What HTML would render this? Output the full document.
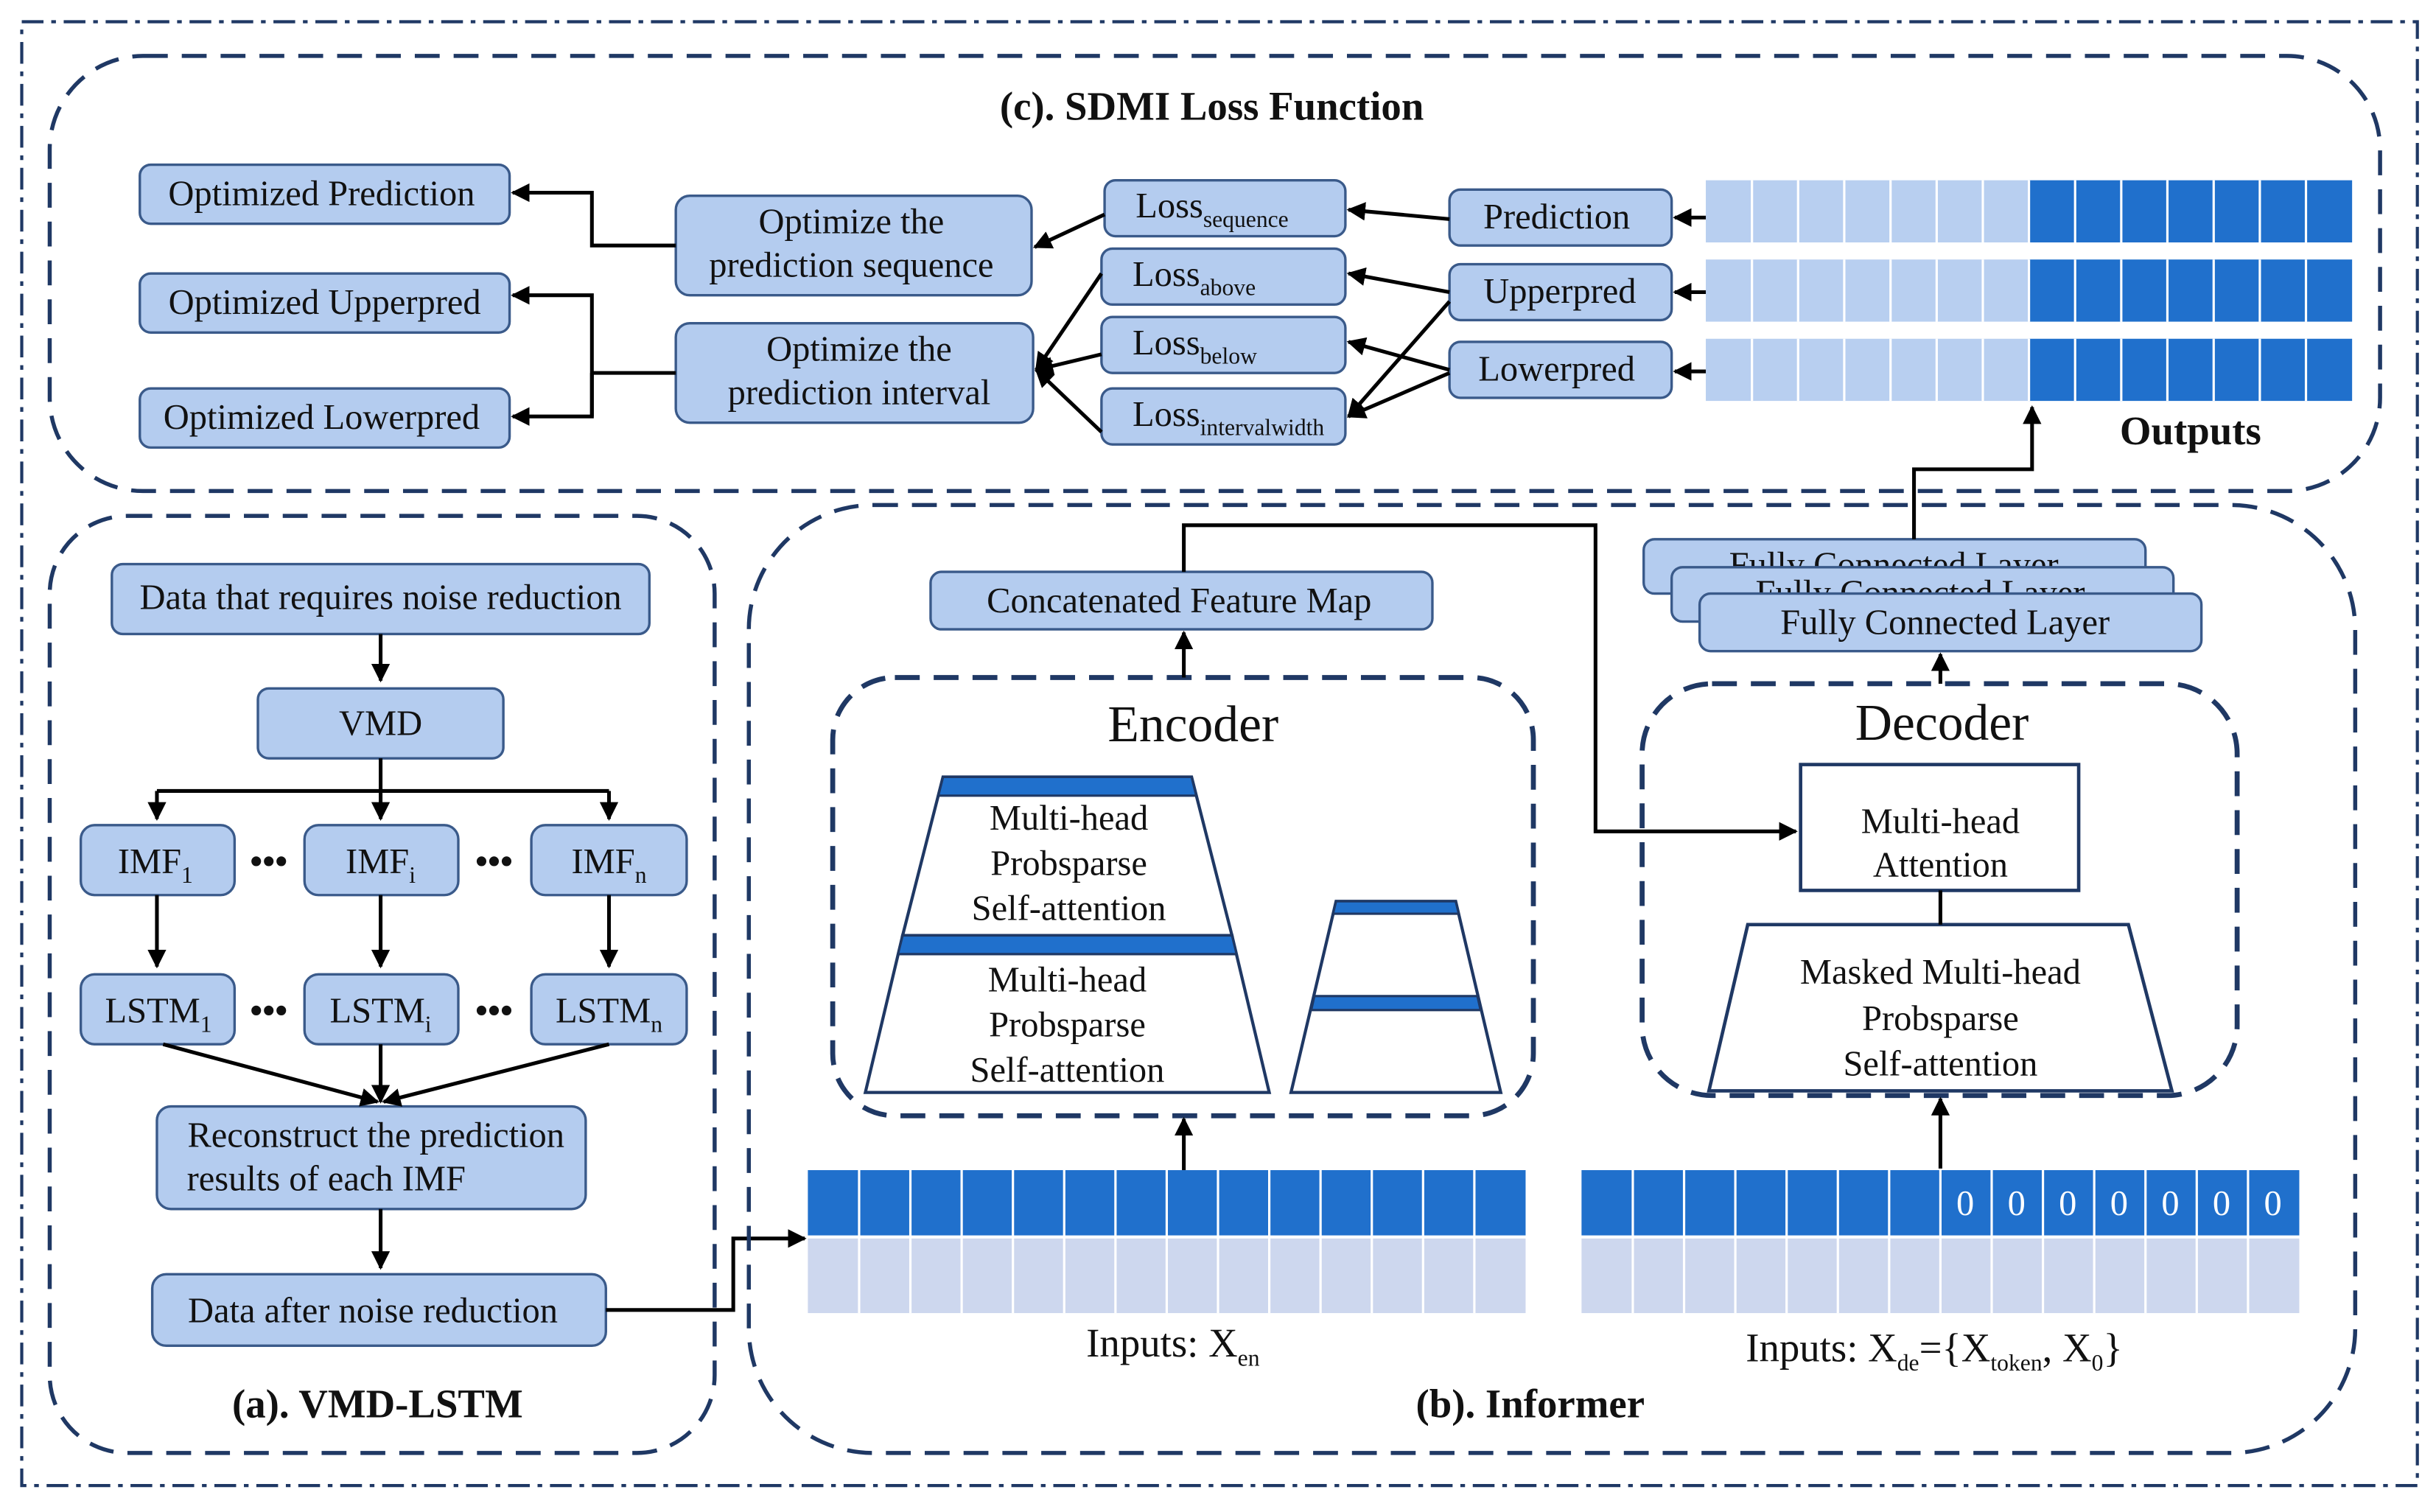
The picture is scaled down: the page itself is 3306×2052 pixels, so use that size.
<!DOCTYPE html>
<html><head><meta charset="utf-8"><style>
html,body{margin:0;padding:0;background:#fff;}
svg{display:block;font-family:"Liberation Serif","Times New Roman",serif;}
text{font-family:"Liberation Serif","Times New Roman",serif;fill:#111;}
.n{fill:#b4ccef;stroke:#3a5a8a;stroke-width:1.6;}
.t{font-size:23px;text-anchor:middle;}
.b{font-weight:bold;font-size:26px;text-anchor:middle;}
.d{fill:none;stroke:#1f3864;stroke-width:2.6;stroke-dasharray:16 9;}
.l{fill:none;stroke:#000;stroke-width:2.4;}
.s{font-size:15px;}
.i{font-size:26px;text-anchor:middle;}
</style></head><body>
<svg width="3306" height="2052" viewBox="0 0 1568 973" preserveAspectRatio="none" xmlns="http://www.w3.org/2000/svg" font-family="Liberation Serif, serif">
<defs><marker id="a" viewBox="0 0 10 10" refX="9" refY="5" markerWidth="5" markerHeight="5" orient="auto"><path d="M0,0L10,5L0,10z" fill="#000"/></marker></defs>
<rect x="0" y="0" width="1568" height="973" fill="#fff"/>
<rect x="14" y="14" width="1542" height="942" fill="none" stroke="#1f3864" stroke-width="2" stroke-dasharray="14 5 3 5"/>
<!-- (c) -->
<rect x="32" y="36" width="1500" height="280" rx="60" class="d"/>
<text x="780" y="77" class="b">(c). SDMI Loss Function</text>
<rect x="90" y="106" width="238" height="38" rx="7" class="n"/><text x="207" y="132" class="t">Optimized Prediction</text>
<rect x="90" y="176" width="238" height="38" rx="7" class="n"/><text x="209" y="202" class="t">Optimized Upperpred</text>
<rect x="90" y="250" width="238" height="38" rx="7" class="n"/><text x="207" y="276" class="t">Optimized Lowerpred</text>
<rect x="435" y="126" width="229" height="64" rx="9" class="n"/><text x="548" y="150" class="t">Optimize the</text><text x="548" y="178" class="t">prediction sequence</text>
<rect x="435" y="208" width="230" height="64" rx="9" class="n"/><text x="553" y="232" class="t">Optimize the</text><text x="553" y="260" class="t">prediction interval</text>
<rect x="711" y="116" width="155" height="36" rx="7" class="n"/><text x="731" y="140" class="t" style="text-anchor:start">Loss<tspan class="s" dy="6">sequence</tspan></text>
<rect x="709" y="160" width="157" height="36" rx="7" class="n"/><text x="729" y="184" class="t" style="text-anchor:start">Loss<tspan class="s" dy="6">above</tspan></text>
<rect x="709" y="204" width="157" height="36" rx="7" class="n"/><text x="729" y="228" class="t" style="text-anchor:start">Loss<tspan class="s" dy="6">below</tspan></text>
<rect x="709" y="250" width="157" height="36" rx="7" class="n"/><text x="729" y="274" class="t" style="text-anchor:start">Loss<tspan class="s" dy="6">intervalwidth</tspan></text>
<rect x="933" y="122" width="143" height="36" rx="7" class="n"/><text x="1002" y="147" class="t">Prediction</text>
<rect x="933" y="170" width="143" height="36" rx="7" class="n"/><text x="1004" y="195" class="t">Upperpred</text>
<rect x="933" y="220" width="143" height="36" rx="7" class="n"/><text x="1002" y="245" class="t">Lowerpred</text>
<g id="orow">
<rect x="1098" y="116" width="208" height="40" fill="#b8cff0"/>
<rect x="1306" y="116" width="208" height="40" fill="#2070cc"/>
<g stroke="#fff" stroke-width="1.5"><path d="M1127.7 116v40M1157.4 116v40M1187.1 116v40M1216.9 116v40M1246.6 116v40M1276.3 116v40M1306 116v40M1335.7 116v40M1365.4 116v40M1395.1 116v40M1424.9 116v40M1454.6 116v40M1484.3 116v40"/></g>
</g>
<use href="#orow" y="51"/><use href="#orow" y="102"/>
<text x="1410" y="286" class="b">Outputs</text>
<path class="l" marker-end="url(#a)" d="M1098 140H1078"/>
<path class="l" marker-end="url(#a)" d="M1098 188H1078"/>
<path class="l" marker-end="url(#a)" d="M1098 239H1078"/>
<path class="l" marker-end="url(#a)" d="M933 141L868 135"/>
<path class="l" marker-end="url(#a)" d="M933 188L868 176"/>
<path class="l" marker-end="url(#a)" d="M933 238L868 220"/>
<path class="l" marker-end="url(#a)" d="M933 194L868 268"/>
<path class="l" marker-end="url(#a)" d="M933 240L868 268"/>
<path class="l" marker-end="url(#a)" d="M711 138L666 159"/>
<path class="l" marker-end="url(#a)" d="M709 176L667 238"/>
<path class="l" marker-end="url(#a)" d="M709 228L667 238"/>
<path class="l" marker-end="url(#a)" d="M709 278L667 238"/>
<path class="l" marker-end="url(#a)" d="M435 158H381V124H330"/>
<path class="l" d="M435 240H381"/>
<path class="l" marker-end="url(#a)" d="M381 268V190H330"/>
<path class="l" marker-end="url(#a)" d="M381 240V268H330"/>
<!-- (a) -->
<rect x="32" y="332" width="428" height="603" rx="50" class="d"/>
<text x="243" y="912" class="b">(a). VMD-LSTM</text>
<rect x="72" y="363" width="346" height="45" rx="7" class="n"/><text x="245" y="392" class="t">Data that requires noise reduction</text>
<rect x="166" y="443" width="158" height="45" rx="7" class="n"/><text x="245" y="473" class="t">VMD</text>
<rect x="52" y="531" width="99" height="45" rx="9" class="n"/><text x="100" y="562" class="t">IMF<tspan class="s" dy="6">1</tspan></text>
<rect x="196" y="531" width="99" height="45" rx="9" class="n"/><text x="245" y="562" class="t">IMF<tspan class="s" dy="6">i</tspan></text>
<rect x="342" y="531" width="100" height="45" rx="9" class="n"/><text x="392" y="562" class="t">IMF<tspan class="s" dy="6">n</tspan></text>
<rect x="52" y="627" width="99" height="45" rx="9" class="n"/><text x="102" y="658" class="t">LSTM<tspan class="s" dy="6">1</tspan></text>
<rect x="196" y="627" width="99" height="45" rx="9" class="n"/><text x="245" y="658" class="t">LSTM<tspan class="s" dy="6">i</tspan></text>
<rect x="342" y="627" width="100" height="45" rx="9" class="n"/><text x="392" y="658" class="t">LSTM<tspan class="s" dy="6">n</tspan></text>
<text x="173" y="562" class="t" font-weight="bold">•••</text><text x="318" y="562" class="t" font-weight="bold">•••</text>
<text x="173" y="658" class="t" font-weight="bold">•••</text><text x="318" y="658" class="t" font-weight="bold">•••</text>
<rect x="101" y="712" width="276" height="66" rx="9" class="n"/><text x="242" y="738" class="t">Reconstruct the prediction</text><text x="210" y="766" class="t">results of each IMF</text>
<rect x="98" y="820" width="292" height="46" rx="9" class="n"/><text x="240" y="851" class="t">Data after noise reduction</text>
<path class="l" marker-end="url(#a)" d="M245 408V438"/>
<path class="l" marker-end="url(#a)" d="M245 488V527"/>
<path class="l" marker-end="url(#a)" d="M101 509V527"/><path class="l" marker-end="url(#a)" d="M392 509V527"/><path class="l" d="M101 509H392"/>
<path class="l" marker-end="url(#a)" d="M101 576V622"/><path class="l" marker-end="url(#a)" d="M245 576V622"/><path class="l" marker-end="url(#a)" d="M392 576V622"/>
<path class="l" marker-end="url(#a)" d="M105 672L243 709"/><path class="l" marker-end="url(#a)" d="M245 672V709"/><path class="l" marker-end="url(#a)" d="M392 672L247 709"/>
<path class="l" marker-end="url(#a)" d="M245 778V816"/>
<path class="l" marker-end="url(#a)" d="M390 843H472V797H518"/>
<!-- (b) -->
<rect x="482" y="325" width="1034" height="610" rx="80" class="d"/>
<text x="985" y="912" class="b">(b). Informer</text>
<rect x="599" y="368" width="323" height="37" rx="7" class="n"/><text x="759" y="394" class="t">Concatenated Feature Map</text>
<rect x="536" y="436" width="451" height="282" rx="40" class="d" style="stroke-width:3.2"/>
<text x="768" y="477" style="font-size:33px;text-anchor:middle">Encoder</text>
<path d="M607 500H767L793 602H581Z" fill="#fff" stroke="#1f3864" stroke-width="2"/>
<path d="M607 500H767L770 512H604Z" fill="#2070cc" stroke="#1f3864" stroke-width="1.5"/>
<path d="M581 602H793L817 703H557Z" fill="#fff" stroke="#1f3864" stroke-width="2"/>
<path d="M581 602H793L796 614H578Z" fill="#2070cc" stroke="#1f3864" stroke-width="1.5"/>
<text x="688" y="534" class="t">Multi-head</text><text x="688" y="563" class="t">Probsparse</text><text x="688" y="592" class="t">Self-attention</text>
<text x="687" y="638" class="t">Multi-head</text><text x="687" y="667" class="t">Probsparse</text><text x="687" y="696" class="t">Self-attention</text>
<path d="M860 580H937L966 703H831Z" fill="#fff" stroke="#1f3864" stroke-width="2"/>
<path d="M860 580H937L939 588H858Z" fill="#2070cc" stroke="#1f3864" stroke-width="1.5"/>
<path d="M846 641H951L953 650H844Z" fill="#2070cc" stroke="#1f3864" stroke-width="1.5"/>
<rect x="1057" y="440" width="383" height="265" rx="45" class="d" style="stroke-width:3.2"/>
<text x="1250" y="476" style="font-size:33px;text-anchor:middle">Decoder</text>
<rect x="1159" y="492" width="179" height="81" fill="#fff" stroke="#1f3864" stroke-width="2.2"/>
<text x="1249" y="536" class="t">Multi-head</text><text x="1249" y="564" class="t">Attention</text>
<path d="M1125 595H1370L1398 702H1100Z" fill="#fff" stroke="#1f3864" stroke-width="2.2"/>
<text x="1249" y="633" class="t">Masked Multi-head</text><text x="1249" y="663" class="t">Probsparse</text><text x="1249" y="692" class="t">Self-attention</text>
<path class="l" d="M1249 573V595"/>
<rect x="1058" y="347" width="323" height="35" rx="7" class="n"/><text x="1219" y="371" class="t">Fully Connected Layer</text>
<rect x="1076" y="365" width="323" height="35" rx="7" class="n"/><text x="1236" y="389" class="t">Fully Connected Layer</text>
<rect x="1094" y="382" width="323" height="37" rx="7" class="n"/><text x="1252" y="408" class="t">Fully Connected Layer</text>
<g id="irow">
<rect x="520" y="753" width="462" height="42" fill="#2070cc"/>
<rect x="520" y="797" width="462" height="48" fill="#cdd7ee"/>
<g stroke="#fff" stroke-width="1.5"><path d="M553 753v92M586 753v92M619 753v92M652 753v92M685 753v92M718 753v92M751 753v92M784 753v92M817 753v92M850 753v92M883 753v92M916 753v92M949 753v92"/></g>
</g>
<use href="#irow" x="498"/>
<g style="font-size:23px;text-anchor:middle"><text x="1265" y="782" style="fill:#fff">0</text><text x="1298" y="782" style="fill:#fff">0</text><text x="1331" y="782" style="fill:#fff">0</text><text x="1364" y="782" style="fill:#fff">0</text><text x="1397" y="782" style="fill:#fff">0</text><text x="1430" y="782" style="fill:#fff">0</text><text x="1463" y="782" style="fill:#fff">0</text></g>
<text x="755" y="873" class="i">Inputs: X<tspan class="s" dy="6">en</tspan></text>
<text x="1245" y="876" class="i">Inputs: X<tspan class="s" dy="6">de</tspan><tspan dy="-6">={X</tspan><tspan class="s" dy="6">token</tspan><tspan dy="-6">, X</tspan><tspan class="s" dy="6">0</tspan><tspan dy="-6">}</tspan></text>
<path class="l" marker-end="url(#a)" d="M762 753V720"/>
<path class="l" marker-end="url(#a)" d="M762 436V407"/>
<path class="l" marker-end="url(#a)" d="M762 368V338H1027V535H1156"/>
<path class="l" marker-end="url(#a)" d="M1249 752V707"/>
<path class="l" marker-end="url(#a)" d="M1249 440V421"/>
<path class="l" marker-end="url(#a)" d="M1232 347V302H1308V262"/>
</svg>
</body></html>
